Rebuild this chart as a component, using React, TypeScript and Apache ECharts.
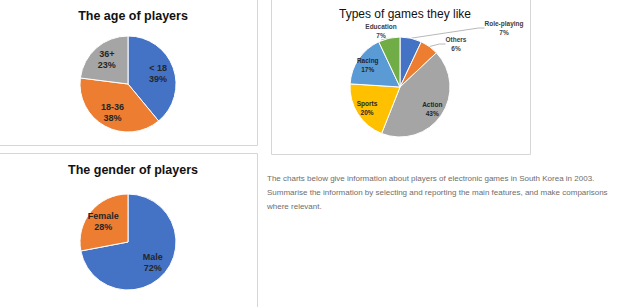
import React, { useEffect, useRef } from "react";
import * as echarts from "echarts";

const ageCategories = ["< 18", "18-36", "36+"];
const ageValues = [39, 38, 23];
const genderCategories = ["Male", "Female"];
const genderValues = [72, 28];
const gameCategories = ["Role-playing", "Others", "Action", "Sports", "Racing", "Education"];
const gameValues = [7, 6, 43, 20, 17, 7];
const chartTitles = ["The age of players", "The gender of players", "Types of games they like"];
const noteLines = [
  "The charts below give information about players of electronic games in South Korea in 2003.",
  "Summarise the information by selecting and reporting the main features, and make comparisons",
  "where relevant.",
];

const ageColors = ["#4472C4", "#ED7D31", "#A5A5A5"];
const genderColors = ["#4472C4", "#ED7D31"];
const gameColors = ["#4472C4", "#ED7D31", "#A5A5A5", "#FFC000", "#5B9BD5", "#70AD47"];

const FONT = "'Liberation Sans', Arial, sans-serif";
const outsideGameLabelPos: Record<string, [number, number]> = {
  "Role-playing": [504, 28],
  Others: [456, 44],
  Education: [381, 31],
};

const fmt = (p: any) => `${p.name}\n${p.value}%`;

function basePie(center: [number, number], r: number, names: string[], values: number[], colors: string[]) {
  return {
    type: "pie",
    center,
    radius: [0, r],
    startAngle: 90,
    clockwise: true,
    avoidLabelOverlap: false,
    silent: true,
    label: { show: false },
    labelLine: { show: false },
    itemStyle: { borderColor: "#ffffff", borderWidth: 1 },
    data: names.map((n, i) => ({ name: n, value: values[i], itemStyle: { color: colors[i] } })),
  };
}

function labelPie(
  center: [number, number],
  r0: number,
  r: number,
  names: string[],
  values: number[],
  fontSize: number,
  lineHeight: number,
  showFn: (n: string) => boolean
) {
  return {
    type: "pie",
    center,
    radius: [r0, r],
    startAngle: 90,
    clockwise: true,
    avoidLabelOverlap: false,
    silent: true,
    itemStyle: { color: "rgba(0,0,0,0)", borderWidth: 0 },
    labelLine: { show: false },
    label: {
      show: true,
      position: "inside",
      formatter: fmt,
      fontFamily: FONT,
      fontSize,
      lineHeight,
      fontWeight: "bold",
      color: "#262626",
    },
    data: names.map((n, i) => ({
      name: n,
      value: values[i],
      label: { show: showFn(n) },
    })),
  };
}

export default function App() {
  const ref = useRef<HTMLDivElement>(null);
  useEffect(() => {
    if (!ref.current) return;
    const chart = echarts.init(ref.current, undefined, { renderer: "svg" });
    const gameMain: any = basePie([400, 87], 50, gameCategories, gameValues, gameColors);
    gameMain.data = gameCategories.map((n, i) => {
      const outside = !!outsideGameLabelPos[n];
      return {
        name: n,
        value: gameValues[i],
        itemStyle: { color: gameColors[i] },
        label: outside
          ? {
              show: true,
              position: "outside",
              formatter: fmt,
              fontFamily: FONT,
              fontSize: 6.5,
              lineHeight: 9,
              fontWeight: "bold",
              color: "#404040",
            }
          : { show: false },
        labelLine: outside
          ? { show: true, length: 6, length2: 6, lineStyle: { color: "#a6a6a6", width: 0.8 } }
          : { show: false },
      };
    });
    gameMain.labelLayout = (params: any) => {
      const name = gameCategories[params.dataIndex];
      const pos = outsideGameLabelPos[name];
      if (!pos) return {};
      return { x: pos[0], y: pos[1], align: "center", verticalAlign: "middle" };
    };

    const lines = [
      [[257.5, 0], [257.5, 145.5], [0, 145.5]],
      [[0, 153.5], [257.5, 153.5], [257.5, 307]],
      [[271.5, 0], [271.5, 154.5], [530.5, 154.5], [530.5, 0]],
    ];

    chart.setOption({
      animation: false,
      backgroundColor: "#ffffff",
      title: [
        {
          text: chartTitles[0],
          left: 128,
          top: 4,
          textAlign: "center",
          textStyle: { fontFamily: FONT, fontSize: 12.5, fontWeight: "bold", color: "#111" },
        },
        {
          text: chartTitles[1],
          left: 128,
          top: 158,
          textAlign: "center",
          textStyle: { fontFamily: FONT, fontSize: 12.5, fontWeight: "bold", color: "#111" },
        },
        {
          text: chartTitles[2],
          left: 400,
          top: 3,
          textAlign: "center",
          textStyle: { fontFamily: FONT, fontSize: 12, fontWeight: 500, color: "#111" },
        },
      ],
      graphic: [
        ...lines.map((pts) => ({
          type: "polyline",
          shape: { points: pts },
          style: { stroke: "#d6d6d6", lineWidth: 1, fill: null },
          silent: true,
        })),
        ...noteLines.map((t, i) => ({
          type: "text",
          x: 267,
          y: 178 + i * 14,
          style: {
            text: t,
            fontFamily: FONT,
            fontSize: 8,
            fill: "#6e6e6e",
            verticalAlign: "middle",
          },
          silent: true,
        })),
      ],
      series: [
        basePie([128, 84], 48, ageCategories, ageValues, ageColors),
        labelPie([128, 84], 10, 48, ageCategories, ageValues, 9, 11, () => true),
        basePie([128, 242], 48, genderCategories, genderValues, genderColors),
        labelPie([128, 242], 10, 48, genderCategories, genderValues, 9, 11, () => true),
        gameMain,
        labelPie([400, 87], 22, 50, gameCategories, gameValues, 6.5, 9, (n) => !outsideGameLabelPos[n]),
      ],
    });
    return () => chart.dispose();
  }, []);
  return (
    <div
      ref={ref}
      style={{ position: "absolute", left: 0, top: 0, width: 640, height: 307 }}
    />
  );
}
